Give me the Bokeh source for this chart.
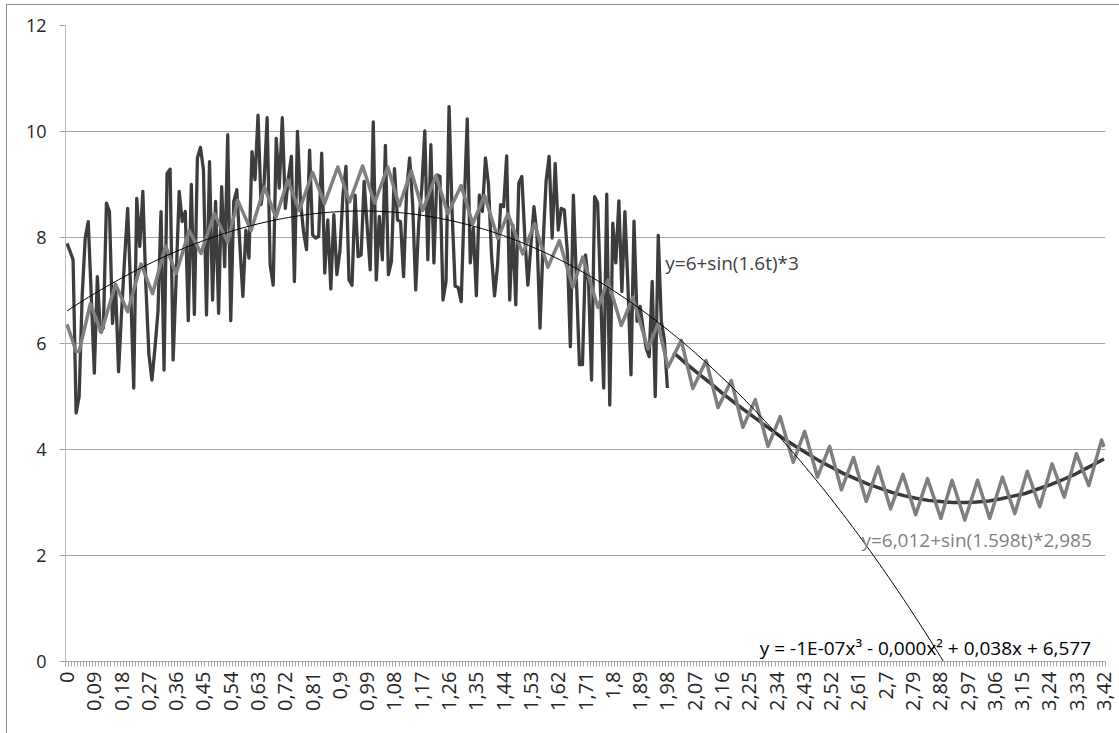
import numpy as np
from bokeh.plotting import figure
from bokeh.models import Range1d, FixedTicker, Label
from bokeh.embed import file_html
from bokeh.resources import INLINE

# ---------------- data ----------------
STEP = 0.01
N_CAT = 343                       # categories 0 .. 3,42
categories = [round(i * STEP, 2) for i in range(N_CAT)]
label_every = 9
tick_labels = [f"{categories[i]:.2f}".rstrip("0").rstrip(".").replace(".", ",")
               for i in range(0, N_CAT, label_every)]

# noisy measured series, t = 0 .. 1,98
noisy = [7.89, 7.74, 7.58, 4.69, 5.00, 6.90, 7.99, 8.30, 6.90, 5.44,
         7.26, 6.23, 6.30, 8.65, 8.49, 6.38, 7.10, 5.47, 6.60, 7.60,
         8.55, 7.00, 5.16, 8.74, 7.83, 8.87, 7.10, 5.80, 5.31, 5.91,
         6.60, 8.49, 5.50, 9.21, 9.29, 5.69, 7.23, 8.87, 8.30, 8.49,
         6.43, 9.00, 6.55, 9.50, 9.70, 9.28, 6.54, 9.43, 6.82, 8.68,
         6.57, 8.96, 7.45, 9.94, 6.43, 8.68, 8.90, 7.86, 6.89, 8.14,
         7.61, 9.62, 9.09, 10.31, 8.62, 9.03, 10.26, 7.48, 7.10, 9.87,
         8.93, 10.26, 8.55, 9.12, 9.53, 7.17, 10.00, 8.68, 8.11, 7.77,
         9.65, 8.05, 7.99, 8.02, 9.59, 7.33, 8.33, 7.03, 8.43, 7.30,
         7.74, 8.80, 9.34, 7.20, 7.10, 8.80, 7.64, 7.67, 9.06, 8.20,
         7.39, 10.18, 7.20, 8.40, 7.58, 9.74, 7.30, 7.55, 9.30, 8.33,
         8.30, 7.26, 8.87, 9.50, 8.62, 7.01, 8.27, 8.93, 10.01, 7.58,
         9.75, 7.52, 9.18, 9.15, 6.82, 7.17, 10.47, 8.49, 7.08, 7.06,
         6.79, 8.62, 10.24, 7.52, 8.18, 6.90, 8.80, 8.49, 9.50, 9.00,
         7.67, 6.90, 7.48, 8.62, 8.58, 9.54, 6.82, 8.24, 6.73, 9.03,
         9.15, 7.99, 7.10, 7.86, 8.58, 8.05, 6.29, 7.86, 9.06, 9.53,
         7.99, 9.40, 8.14, 8.55, 8.52, 7.74, 5.94, 8.80, 7.20, 5.60,
         5.60, 7.67, 7.17, 5.31, 8.77, 8.65, 6.92, 5.16, 8.82, 4.84,
         8.27, 7.52, 8.69, 6.98, 8.49, 7.08, 5.41, 8.31, 6.42, 6.70,
         6.29, 5.91, 5.75, 7.17, 5.00, 8.04, 6.42, 6.07, 5.16]
noisy_t = categories[:len(noisy)]

# fitted series y=6,012+sin(1.598t)*2,985 (with its ripple), read at its turning points
fit_t = [0.00, 0.03, 0.04, 0.077, 0.113, 0.16, 0.20, 0.244, 0.282, 0.325,
         0.36, 0.403, 0.442, 0.486, 0.53, 0.563, 0.607, 0.651, 0.689, 0.728,
         0.766, 0.81, 0.849, 0.893, 0.932, 0.975, 1.014, 1.058, 1.096, 1.135,
         1.173, 1.217, 1.256, 1.30, 1.338, 1.377, 1.421, 1.454, 1.503, 1.542,
         1.586, 1.624, 1.668, 1.701, 1.751, 1.784, 1.828, 1.866, 1.916, 1.949,
         1.982, 2.026, 2.064, 2.108, 2.147, 2.191, 2.229, 2.27, 2.312, 2.352,
         2.395, 2.433, 2.475, 2.515, 2.554, 2.594, 2.636, 2.675, 2.716, 2.757,
         2.799, 2.838, 2.882, 2.919, 2.961, 3.003, 3.043, 3.085, 3.126, 3.167,
         3.208, 3.249, 3.289, 3.329, 3.37, 3.412, 3.42]
fit_y = [6.36, 5.85, 5.85, 6.75, 6.21, 7.12, 6.60, 7.50, 6.94, 7.84,
         7.32, 8.13, 7.70, 8.45, 7.91, 8.70, 8.13, 8.95, 8.38, 9.08,
         8.51, 9.23, 8.64, 9.33, 8.67, 9.35, 8.65, 9.33, 8.60, 9.26,
         8.51, 9.17, 8.45, 8.98, 8.26, 8.79, 7.98, 8.45, 7.69, 8.26,
         7.44, 7.94, 7.06, 7.63, 6.68, 7.19, 6.34, 6.87, 5.90, 6.37,
         5.55, 6.06, 5.15, 5.68, 4.79, 5.30, 4.42, 4.94, 4.06, 4.62,
         3.76, 4.34, 3.48, 4.06, 3.24, 3.85, 3.02, 3.67, 2.88, 3.53,
         2.77, 3.45, 2.70, 3.42, 2.67, 3.42, 2.70, 3.48, 2.79, 3.59,
         2.92, 3.73, 3.10, 3.92, 3.32, 4.18, 4.05]

# model series y=6+sin(1.6t)*3 from t = 2,00
model_t = [round(2.00 + 0.04 * i, 2) for i in range(36)] + [3.42]
model_y = [5.83, 5.63, 5.44, 5.26, 5.07, 4.89, 4.72, 4.55, 4.38, 4.22,
           4.07, 3.93, 3.79, 3.67, 3.55, 3.45, 3.35, 3.27, 3.19, 3.13,
           3.08, 3.04, 3.02, 3.00, 3.00, 3.01, 3.03, 3.07, 3.12, 3.17,
           3.25, 3.33, 3.42, 3.52, 3.64, 3.76, 3.82]

# cubic trendline of the noisy series (x = point number 1, 2, ...)
trend_coef = [-1.13e-7, -1.764e-4, 0.038, 6.577]
trend_points = 296

y_ticks = [0, 2, 4, 6, 8, 10, 12]

# ---------------- figure ----------------
FONT = "Open Sans"
p = figure(frame_width=1040, frame_height=636,
           min_border_left=65, min_border_right=14, min_border_top=25, min_border_bottom=72,
           x_range=Range1d(-0.5, N_CAT - 0.5), y_range=Range1d(0, 12),
           output_backend="svg", toolbar_location=None)
p.outline_line_color = None
p.background_fill_color = "white"
p.border_fill_color = None
# thin chart-area border (top and left) like the spreadsheet chart frame
p.styles = {
    "background": "linear-gradient(#8c8c8c, #8c8c8c) 6px 4px / 1px 100% no-repeat, "
                  "linear-gradient(#8c8c8c, #8c8c8c) 6px 4px / 100% 1px no-repeat, white"
}

def idx(ts):
    return [t / STEP for t in ts]

p.line(idx(noisy_t), noisy, line_color="#3d3d3d", line_width=3.3, line_join="round")
p.line(idx(model_t), model_y, line_color="#383838", line_width=3.5, line_join="round")
p.line(idx(fit_t), fit_y, line_color="#7f7f7f", line_width=3.5, line_join="round")
tk = np.arange(trend_points)
p.line(tk, np.polyval(trend_coef, tk + 1), line_color="black", line_width=1)

# axes
tick_idx = list(range(0, N_CAT, label_every))
p.xaxis.ticker = FixedTicker(ticks=tick_idx, minor_ticks=[k - 0.5 for k in range(N_CAT + 1)])
p.xaxis.major_label_overrides = {i: lab for i, lab in zip(tick_idx, tick_labels)}
p.xaxis.major_label_orientation = np.pi / 2
p.xaxis.major_tick_line_color = None
p.xaxis.major_tick_out = 5
p.xaxis.major_tick_in = 0
p.xaxis.minor_tick_out = 5
p.xaxis.minor_tick_in = 0
p.xaxis.minor_tick_line_color = "#a6a6a6"
p.xaxis.axis_line_color = "#a6a6a6"
p.xaxis.major_label_standoff = 5

p.yaxis.ticker = FixedTicker(ticks=y_ticks)
p.yaxis.major_tick_out = 6
p.yaxis.major_tick_in = 0
p.yaxis.minor_tick_line_color = None
p.yaxis.major_tick_line_color = "#a6a6a6"
p.yaxis.axis_line_color = "#bdbdbd"
p.yaxis.major_label_standoff = 13

for ax in (p.xaxis, p.yaxis):
    ax.major_label_text_font = FONT
    ax.major_label_text_font_size = "18px"
    ax.major_label_text_color = "#262626"
p.xaxis.major_label_text_font_size = "20px"

p.xgrid.visible = False
p.ygrid.grid_line_color = "#a6a6a6"
p.ygrid.grid_line_width = 1

# equation labels
labels = [
    (197.3, 7.51, "y=6+sin(1.6t)*3", "#404040"),
    (262.0, 2.29, "y=6,012+sin(1.598t)*2,985", "#7f7f7f"),
    (228.5, 0.25, "y = -1E-07x\u00b3 - 0,000x\u00b2 + 0,038x + 6,577", "#000000"),
]
for lx, ly, txt, col in labels:
    p.add_layout(Label(x=lx, y=ly, text=txt, text_font=FONT, text_font_size="19px",
                       text_color=col, text_baseline="middle", text_align="left"))

open("out.html", "w").write(file_html(p, INLINE))
